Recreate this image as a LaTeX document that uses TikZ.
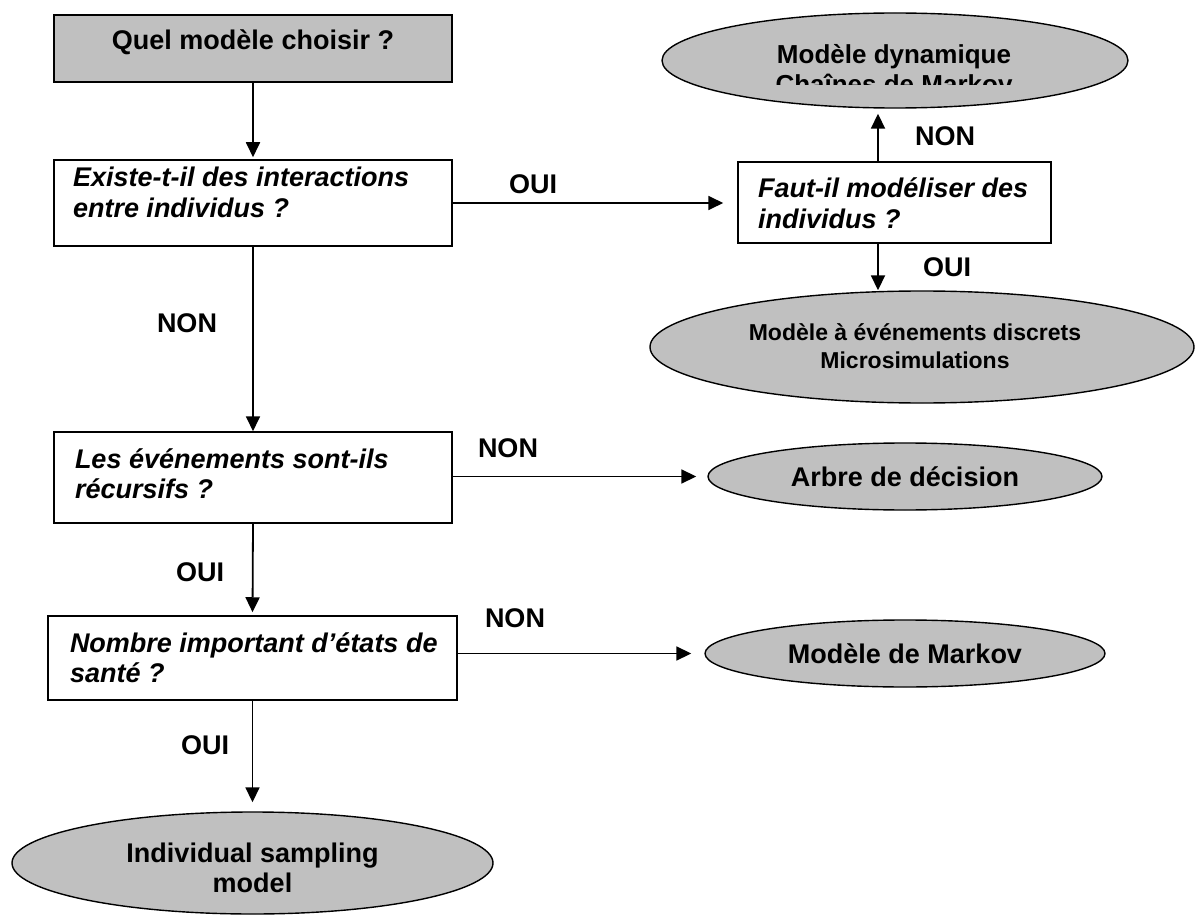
\documentclass[tikz,border=0pt]{standalone}
\usepackage{fontspec}
\setmainfont{Liberation Sans}
\usetikzlibrary{shapes.geometric,arrows.meta}
\definecolor{boxgray}{HTML}{C0C0C0}
% question text: fixed-height box, first baseline #3 below the top edge
\newcommand{\questiontext}[4]{\parbox[c][#1][t]{#2}{\raggedright\rule{0pt}{#3}#4}}
\tikzset{
  bigfont/.style={font=\bfseries\fontsize{27}{30}\selectfont},
  startbox/.style={draw, fill=boxgray, line width=1.5pt, minimum width=398pt,
    minimum height=67pt, inner sep=0pt, text height=19pt, text depth=16pt, bigfont},
  question/.style={draw, fill=white, line width=1.5pt, inner ysep=0pt,
    font=\bfseries\itshape\fontsize{27}{30.5}\selectfont},
  outcome/.style={ellipse, draw, fill=boxgray, line width=1.4pt, inner sep=0pt,
    align=center, bigfont},
  answer/.style={bigfont, inner sep=0pt},
  flow/.style={line width=1.8pt, -{Triangle[length=15pt,width=14pt]}},
}
\begin{document}
\begin{tikzpicture}[x=1pt,y=-1pt]
\fill[white] (0,0) rectangle (1195,915);
\useasboundingbox (0,0) rectangle (1195,915);

% decision steps
\node[startbox] (q1) at (253,48.5) {Quel modèle choisir ?};
\node[question, inner xsep=19pt] (q2) at (253,203)
  {\questiontext{86pt}{360pt}{27pt}{\mbox{Existe-t-il des interactions}\\\mbox{entre individus ?}}};
\node[question, inner xsep=20pt] (q3) at (894.5,202.5)
  {\questiontext{81pt}{273pt}{36pt}{\mbox{Faut-il modéliser des}\\\mbox{individus ?}}};
\node[question, inner xsep=21pt] (q4) at (253,477.5)
  {\questiontext{91pt}{356pt}{36pt}{\mbox{Les événements sont-ils}\\\mbox{récursifs ?}}};
\node[question, inner xsep=22pt] (q5) at (252.5,658)
  {\questiontext{84pt}{365pt}{36pt}{\mbox{Nombre important d’états de}\\\mbox{santé ?}}};

% resulting models
\node[outcome, minimum width=466pt, minimum height=95pt] (dyn) at (895,60.5) {};
\node[font=\bfseries\fontsize{26}{30}\selectfont, anchor=base, inner sep=0pt] (dyn1)
  at (894,63.5) {Modèle dynamique};
\begin{scope}
  \clip (650,0) rectangle (1140,85);
  \node[font=\bfseries\fontsize{26}{30}\selectfont, anchor=base, inner sep=0pt] (dyn2)
    at (894,94) {Chaînes de Markov};
\end{scope}

\node[outcome, minimum width=544pt, minimum height=112pt] (disc) at (922,347) {};
\node[font=\bfseries\fontsize{23}{28}\selectfont, align=center, inner sep=0pt] (disctxt)
  at (915,346) {Modèle à événements discrets\\Microsimulations};

\node[outcome, minimum width=394pt, minimum height=67pt] (arbre) at (905,476.5) {Arbre de décision};
\node[outcome, minimum width=400pt, minimum height=67pt] (markov) at (905,653.5) {Modèle de Markov};

\node[outcome, minimum width=481pt, minimum height=102pt] (ism) at (252.5,863) {};
\node[bigfont, align=center, inner sep=0pt] (ismtxt) at (252.5,868) {Individual sampling\\model};

% branch points
\coordinate (upx) at (878,0);

% connectors
\draw[flow, shorten >=2pt] (q1.south) -- (q2.north);
\draw[flow, shorten >=14pt] (q2.east) -- (q2.east -| q3.west);
\draw[flow, shorten >=5pt] (q3.north -| upx) -- (dyn.south -| upx);
\draw[flow] (q3.south -| upx) -- (upx |- disc.north);
\draw[flow] (q2.south) -- (q4.north);
\draw[flow, shorten >=11pt] (arbre.west -| q4.east) -- (arbre.west);
\draw[flow, shorten >=3pt] (q4.south) -- (q5.north);
\draw[flow, shorten >=13pt] (markov.west -| q5.east) -- (markov.west);
\draw[flow, shorten >=9pt] (q5.south) -- (ism.north);

% branch labels
\node[answer] (l1) at (533,184) {OUI};
\node[answer] (l2) at (945,136) {NON};
\node[answer] (l3) at (947,267) {OUI};
\node[answer] (l4) at (187,323) {NON};
\node[answer] (l5) at (508,448) {NON};
\node[answer] (l6) at (200,572) {OUI};
\node[answer] (l7) at (515,618) {NON};
\node[answer] (l8) at (205,745) {OUI};
\end{tikzpicture}
\end{document}
